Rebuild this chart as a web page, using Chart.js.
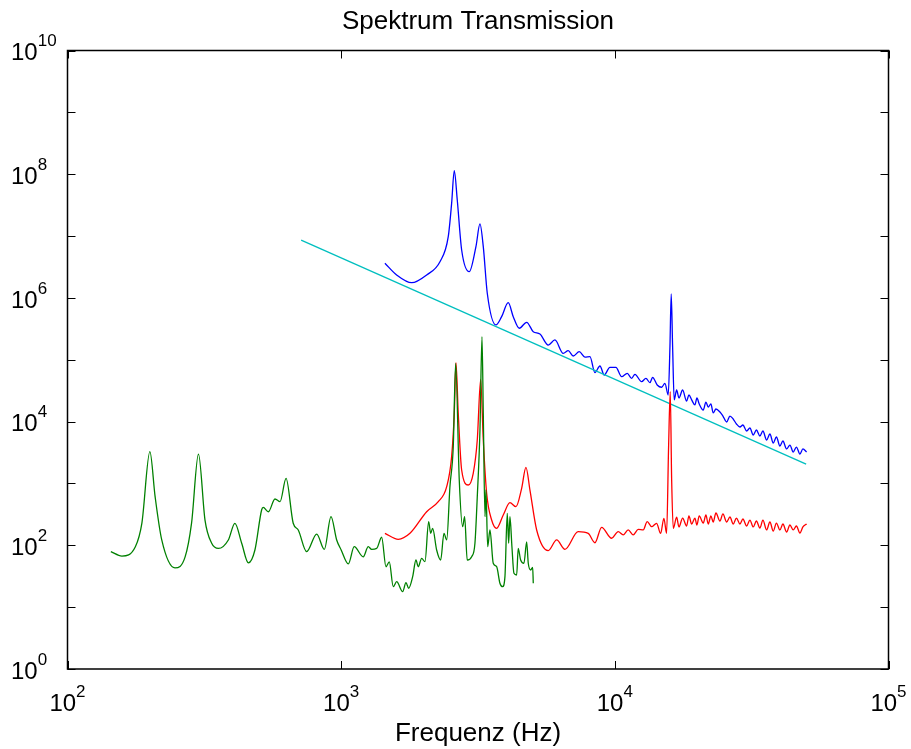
<!DOCTYPE html>
<html>
<head>
<meta charset="utf-8">
<title>Spektrum Transmission</title>
<script src="https://cdn.jsdelivr.net/npm/chart.js@4.4.1/dist/chart.umd.min.js"></script>
<style>
  html, body { margin: 0; padding: 0; background: #fff; }
  #chart { display: block; }
</style>
</head>
<body>
<canvas id="chart" width="911" height="749"></canvas>
<script>
// Titel und Achsen
const chartTitle = 'Spektrum Transmission';
const xAxisLabel = 'Frequenz (Hz)';
const xTickValues = [100, 1000, 10000, 100000];
const xTickExp = ['2', '3', '4', '5'];
const yTickValues = [1, 10, 100, 1e3, 1e4, 1e5, 1e6, 1e7, 1e8, 1e9, 1e10];
const yLabelValues = [1, 100, 1e4, 1e6, 1e8, 1e10];
const yLabelExp = ['0', '2', '4', '6', '8', '10'];

// Gerade (Referenz ~ 1/f^2)
const cyanFreq = [714, 50000];
const cyanAmp = [8.6e6, 2050];

// blaue Kurve
const blueFreq = [1445, 1595, 1810, 2053, 2296, 2462, 2533, 2590, 2656, 2756, 2938, 3108, 3215, 3306, 3419,
  3678, 3858, 4078, 4254, 4474, 4762, 5035, 5325, 5710, 6040, 6478, 6756, 7047, 7412, 7777, 8110, 8458,
  8822, 9147, 9596, 10090, 10590, 11100, 11520, 11840, 12530, 12990, 13440, 13740, 14280, 14830, 15240,
  15670, 15900, 16070, 16260,
  16480, 16820, 17150, 17690, 18290, 18650, 19090, 19620, 19950, 20340, 21040, 21520, 21940, 22440, 22880,
  23410, 24210, 24830, 25620, 26340, 27080, 27820, 28650, 29380, 30310, 31160, 32040, 32910, 33890, 34760,
  35860, 36870, 37910, 38950, 40100, 41130, 42430, 43630, 44850, 46080, 47460, 48670, 50200];
const blueAmp = [3.63e6, 2.35e6, 1.76e6, 2.35e6, 3.85e6, 9.76e6, 3.38e7, 1.14e8, 3.83e7, 5.95e6, 2.65e6,
  6.73e6, 1.57e7, 6.73e6, 1.19e6, 3.65e5, 4.97e5, 8.36e5, 4.97e5, 3.23e5, 4.03e5, 2.84e5, 2.61e5, 1.73e5,
  2.09e5, 1.27e5, 1.4e5, 1.15e5, 1.35e5, 1.1e5, 1.12e5, 6.18e4, 7.93e4, 5.67e4, 7.55e4, 7.55e4, 5.32e4,
  6.04e4, 5.01e4, 5.82e4, 4.42e4, 5.01e4, 4.26e4, 5.2e4, 3.91e4, 3.59e4, 4.16e4, 2.69e4, 1.63e5, 1.16e6,
  1.63e5,
  2.24e4, 3.24e4, 2.41e4, 3.24e4, 2.15e4, 2.69e4, 2.24e4, 1.86e4, 2.41e4, 1.93e4, 1.54e4, 2.07e4, 1.72e4,
  1.93e4, 1.38e4, 1.6e4, 1.43e4, 1.23e4, 9850, 1.23e4, 1.1e4, 9140, 8180, 8810, 7050, 7880, 6070, 7310,
  5850, 7050, 5040, 6300, 4510, 5640, 4030, 4860, 3610, 4180, 3220, 3880, 2990, 3610, 3220];

// rote Kurve
const redFreq = [1445, 1617, 1784, 2053, 2264, 2430, 2533, 2590, 2627, 2678, 2756, 2913, 3038, 3143, 3234,
  3306, 3401, 3547, 3699, 3911, 4137, 4352, 4566, 4734, 4896, 5180, 5710, 6130, 6571, 7349, 7994, 8458,
  8949, 9734, 10290, 10730, 11190, 11670, 12180, 12700, 13130, 13630, 14210, 14700, 15110, 15460, 15720,
  15940, 16130, 16350,
  16820, 17150, 17690, 18290, 18650, 19090, 19620, 19950, 20340, 21040, 21520, 21940, 22440, 22880, 23410,
  24210, 24830, 25620, 26340, 27080, 27820, 28650, 29380, 30310, 31160, 32040, 32910, 33890, 34760, 35860,
  36870, 37910, 38950, 40100, 41130, 42430, 43630, 44850, 46080, 47460, 48670, 50200];
const redAmp = [156, 125, 156, 349, 507, 886, 2710, 13600, 89600, 13600, 1650, 944, 1460, 5040, 48300,
  5040, 693, 256, 188, 309, 488, 421, 835, 1820, 783, 177, 82, 122, 86, 166, 156, 110, 195, 130, 166, 147,
  177, 147, 181, 177, 241, 200, 227, 156, 273, 156, 3930, 30400, 1140, 188,
  284, 198, 276, 205, 298, 221, 276, 213, 298, 229, 309, 221, 298, 238, 333, 247, 321, 238, 287, 221, 276,
  221, 266, 205, 256, 198, 247, 190, 256, 177, 238, 170, 229, 177, 221, 164, 213, 177, 205, 158, 198, 221];

// grüne Kurve
const greenFreq = [144, 158, 177, 187, 200, 209, 221, 247, 269, 284, 301, 318, 336, 356, 387, 409, 433, 458,
  484, 512, 519, 542, 573, 598, 629, 668, 697, 748, 814, 868, 918, 963, 1000, 1062, 1116, 1204, 1256, 1292,
  1348, 1406, 1458, 1499, 1550, 1595, 1678, 1725, 1765, 1825, 1876, 1913, 1968, 2024, 2088, 2123, 2159,
  2233, 2310, 2375, 2430, 2497, 2568, 2620, 2701, 2779, 2826, 2888, 2998, 3082, 3143, 3215, 3270, 3306,
  3354, 3381, 3430, 3497, 3595, 3699, 3803, 3890, 3967, 4045, 4093, 4137, 4207, 4279, 4378, 4436, 4527,
  4655, 4762, 4827, 4926, 5009, 5035];
const greenAmp = [79, 67, 95, 229, 3260, 611, 122, 43, 65, 229, 2990, 256, 109, 89, 122, 227, 108, 52, 84,
  372, 411, 349, 561, 507, 1210, 227, 177, 79, 152, 86, 290, 122, 84, 50, 95, 65, 95, 86, 89, 135, 45, 54,
  21.4, 25.8, 17.8, 24.9, 20.2, 31.1, 57.8, 45.1, 61.6, 54.3, 241, 156, 188, 84, 57.8, 156, 122, 886, 3930,
  87600, 1140, 200, 290, 57.8, 65.4, 108, 611, 7310, 236000, 13600, 290, 783, 95, 177, 51.2, 45.1, 24.3,
  21.4, 31.1, 329, 108, 290, 95, 35.3, 33.1, 89, 57.8, 51.2, 114, 51.2, 39.9, 44.1, 24.3];

function toPoints(xs, ys) {
  return xs.map((x, i) => ({ x: x, y: ys[i] }));
}

const FONT = '"Liberation Sans", Arial, Helvetica, sans-serif';

// Achsenrahmen, Ticks und Beschriftungen im MATLAB-Stil
const axesPlugin = {
  id: 'axesBox',
  afterDraw(chart) {
    const ctx = chart.ctx;
    const area = chart.chartArea;
    const xs = chart.scales.x;
    const ys = chart.scales.y;
    const tick = 8;
    ctx.save();
    ctx.strokeStyle = '#000';
    ctx.lineWidth = 1.5;
    ctx.strokeRect(area.left, area.top, area.right - area.left, area.bottom - area.top);
    ctx.lineWidth = 1;
    ctx.beginPath();
    xTickValues.forEach(v => {
      const px = Math.round(xs.getPixelForValue(v)) + 0.5;
      ctx.moveTo(px, area.bottom); ctx.lineTo(px, area.bottom - tick);
      ctx.moveTo(px, area.top); ctx.lineTo(px, area.top + tick);
    });
    yTickValues.forEach(v => {
      const py = Math.round(ys.getPixelForValue(v)) + 0.5;
      ctx.moveTo(area.left, py); ctx.lineTo(area.left + tick, py);
      ctx.moveTo(area.right, py); ctx.lineTo(area.right - tick, py);
    });
    ctx.stroke();

    ctx.fillStyle = '#000';
    ctx.textBaseline = 'middle';
    // y-Beschriftungen
    yLabelValues.forEach((v, i) => {
      const py = ys.getPixelForValue(v);
      ctx.font = '24px ' + FONT;
      ctx.textAlign = 'left';
      ctx.fillText('10', 11, py + 3);
      const w = ctx.measureText('10').width;
      ctx.font = '17px ' + FONT;
      ctx.fillText(yLabelExp[i], 11 + w, py - 9);
    });
    // x-Beschriftungen
    xTickValues.forEach((v, i) => {
      const px = xs.getPixelForValue(v);
      ctx.font = '24px ' + FONT;
      const w = ctx.measureText('10').width;
      ctx.font = '17px ' + FONT;
      const we = ctx.measureText(xTickExp[i]).width;
      const left = px - (w + we) / 2;
      ctx.font = '24px ' + FONT;
      ctx.textAlign = 'left';
      ctx.fillText('10', left, area.bottom + 35);
      ctx.font = '17px ' + FONT;
      ctx.fillText(xTickExp[i], left + w, area.bottom + 23);
    });
    // Titel und Achsentitel
    const cx = (area.left + area.right) / 2;
    ctx.textAlign = 'center';
    ctx.font = '26px ' + FONT;
    ctx.fillText(chartTitle, cx, 22);
    ctx.fillText(xAxisLabel, cx, area.bottom + 65);
    ctx.restore();
  }
};

const ctx = document.getElementById('chart').getContext('2d');
const chart = new Chart(ctx, {
  type: 'line',
  data: {
    datasets: [
      { label: 'gruen', data: toPoints(greenFreq, greenAmp), borderColor: '#008000', order: 1 },
      { label: 'rot', data: toPoints(redFreq, redAmp), borderColor: '#ff0000', order: 2 },
      { label: 'cyan', data: toPoints(cyanFreq, cyanAmp), borderColor: '#00bfbf', order: 3,
        cubicInterpolationMode: 'default' },
      { label: 'blau', data: toPoints(blueFreq, blueAmp), borderColor: '#0000ff', order: 4 }
    ]
  },
  options: {
    responsive: false,
    animation: false,
    layout: { padding: { left: 67.5, right: 22.5, top: 50.5, bottom: 80 } },
    elements: {
      point: { radius: 0 },
      line: { borderWidth: 1.3, cubicInterpolationMode: 'monotone', fill: false }
    },
    scales: {
      x: { type: 'logarithmic', min: 100, max: 100000, display: false },
      y: { type: 'logarithmic', min: 1, max: 1e10, display: false }
    },
    plugins: {
      legend: { display: false },
      title: { display: false },
      tooltip: { enabled: false }
    }
  },
  plugins: [axesPlugin]
});
</script>
</body>
</html>
